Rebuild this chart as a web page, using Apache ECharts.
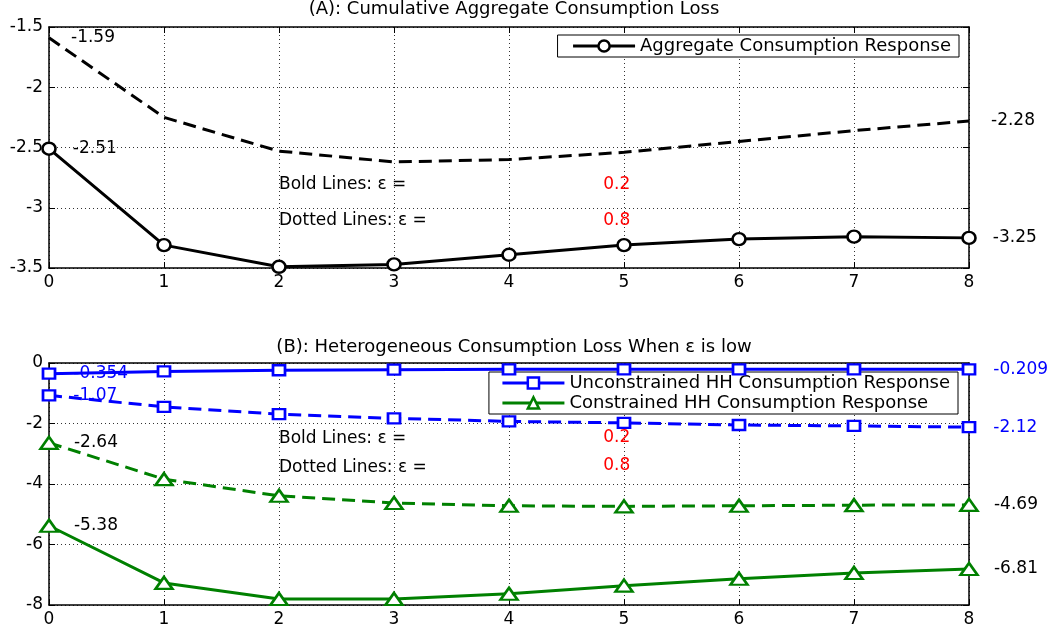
<!DOCTYPE html>
<html><head><meta charset="utf-8">
<script src="https://cdn.jsdelivr.net/npm/echarts@6/dist/echarts.min.js"></script>
<style>html,body{margin:0;padding:0;background:#fff}#c{width:1059px;height:629px}</style>
</head><body><div id="c"></div>
<script>
// ---- data ----
const periods = [0,1,2,3,4,5,6,7,8];
const aggBold   = [-2.51,-3.31,-3.49,-3.47,-3.39,-3.31,-3.26,-3.24,-3.25];
const aggDotted = [-1.59,-2.25,-2.53,-2.62,-2.60,-2.54,-2.45,-2.36,-2.28];
const uncBold   = [-0.354,-0.28,-0.24,-0.22,-0.21,-0.21,-0.21,-0.21,-0.209];
const uncDotted = [-1.07,-1.45,-1.69,-1.83,-1.93,-1.98,-2.05,-2.08,-2.12];
const conBold   = [-5.38,-7.27,-7.80,-7.80,-7.63,-7.36,-7.13,-6.94,-6.81];
const conDotted = [-2.64,-3.84,-4.39,-4.63,-4.72,-4.74,-4.72,-4.70,-4.69];
const titles = ['(A): Cumulative Aggregate Consumption Loss','(B): Heterogeneous Consumption Loss When \u03b5 is low'];
const legendA = ['Aggregate Consumption Response'];
const legendB = ['Unconstrained HH Consumption Response','Constrained HH Consumption Response'];
const noteText = ['Bold Lines: \u03b5 =','Dotted Lines: \u03b5 ='];
const epsValues = ['0.2','0.8'];

const FONT = 'DejaVu Sans, Liberation Sans, Arial, sans-serif';
const BLUE = '#0000ff', GREEN = '#008000', BLACK = '#000000', RED = '#ff0000';

function pts(arr, labelColor){
  const last = arr.length - 1;
  return arr.map((v,i)=>({value:[periods[i], v], label:{show: i===0 || i===last, color: labelColor}}));
}
function lineSeries(name, arr, o){
  return {
    type:'line', name, data: pts(arr, o.labelColor || BLACK),
    xAxisIndex:o.g*2, yAxisIndex:o.g*2,
    symbol:o.symbol || 'circle', symbolSize:o.symbolSize || 0, showSymbol:true,
    lineStyle:{color:o.color, width:3, type:o.dashed ? [13,7] : 'solid'},
    itemStyle:{color:'#fff', borderColor:o.color, borderWidth:2.5, opacity:1},
    label:{position:'right', distance:o.dist, fontFamily:FONT, fontSize:17,
      formatter:p=>String(p.value[1])},
    z: o.z || 3, animation:false, emphasis:{disabled:true}
  };
}
function noteSeries(g, coords, texts, color){
  return {type:'scatter', xAxisIndex:g*2, yAxisIndex:g*2, symbolSize:0, silent:true,
    itemStyle:{opacity:1},
    data: coords.map((c,i)=>({value:c, name:texts[i]})),
    label:{show:true, position:'right', distance:0, color, opacity:1, fontFamily:FONT, fontSize:17, formatter:p=>p.name},
    animation:false, z:5};
}
const gridLine = {show:true, lineStyle:{color:'#333', width:1, type:[1,3]}};
const axisLineStyle = {show:true, onZero:false, lineStyle:{color:'#000', width:1.5}};
const tickStyle = {show:true, inside:true, length:6, lineStyle:{color:'#000'}};
function xAxes(g){
  return [
    {type:'value', gridIndex:g, min:0, max:8, interval:1, axisLine:axisLineStyle, axisTick:tickStyle,
     axisLabel:{color:'#000', fontFamily:FONT, fontSize:17, margin:6}, splitLine:gridLine},
    {type:'value', gridIndex:g, position:'top', min:0, max:8, interval:1, axisLine:axisLineStyle, axisTick:tickStyle,
     axisLabel:{show:false}, splitLine:{show:false}}
  ];
}
function yAxes(g, min, max, interval){
  return [
    {type:'value', gridIndex:g, min, max, interval, axisLine:axisLineStyle, axisTick:tickStyle,
     axisLabel:{color:'#000', fontFamily:FONT, fontSize:17, margin:6}, splitLine:gridLine},
    {type:'value', gridIndex:g, position:'right', min, max, interval, axisLine:axisLineStyle, axisTick:tickStyle,
     axisLabel:{show:false}, splitLine:{show:false}}
  ];
}
const legendCommon = {orient:'vertical', backgroundColor:'#fff', borderColor:'#000', borderWidth:1,
  itemWidth:62, itemHeight:14, itemGap:2, selectedMode:false,
  lineStyle:{width:3}, itemStyle:{borderWidth:2.5},
  textStyle:{fontFamily:FONT, fontSize:18, color:'#000'}};

const chart = echarts.init(document.getElementById('c'), null, {renderer:'canvas'});
chart.setOption({
  backgroundColor:'#fff',
  animation:false,
  title:[
    {text:titles[0], left:509, top:-5, textAlign:'center', textStyle:{fontFamily:FONT, fontSize:18, fontWeight:'normal', color:'#000'}},
    {text:titles[1], left:509, top:333, textAlign:'center', textStyle:{fontFamily:FONT, fontSize:18, fontWeight:'normal', color:'#000'}}
  ],
  legend:[
    Object.assign({data:legendA, right:100, top:35, padding:[2,8,2,14]}, legendCommon),
    Object.assign({data:legendB, right:101, top:372, padding:[2,8,2,12]}, legendCommon)
  ],
  grid:[
    {left:49, top:27, width:920, height:241},
    {left:49, top:363, width:920, height:242}
  ],
  xAxis:[...xAxes(0), ...xAxes(1)],
  yAxis:[...yAxes(0,-3.5,-1.5,0.5), ...yAxes(1,-8,0,2)],
  series:[
    lineSeries(legendA[0], aggBold, {g:0, color:BLACK, symbol:'circle', symbolSize:[13,12], dist:16, z:4}),
    lineSeries('Aggregate (dotted)', aggDotted, {g:0, color:BLACK, dashed:true, symbolSize:0, dist:22}),
    lineSeries(legendB[0], uncBold, {g:1, color:BLUE, symbol:'rect', symbolSize:[12,10], dist:17, labelColor:BLUE, z:4}),
    lineSeries('Unconstrained (dotted)', uncDotted, {g:1, color:BLUE, dashed:true, symbol:'rect', symbolSize:[12,10], dist:17, labelColor:BLUE}),
    lineSeries(legendB[1], conBold, {g:1, color:GREEN, symbol:'triangle', symbolSize:[17,12], dist:15, z:4}),
    lineSeries('Constrained (dotted)', conDotted, {g:1, color:GREEN, dashed:true, symbol:'triangle', symbolSize:[17,12], dist:15}),
    noteSeries(0, [[2,-2.81],[2,-3.11]], noteText, '#000'),
    noteSeries(0, [[4.82,-2.81],[4.82,-3.11]], epsValues, RED),
    noteSeries(1, [[2,-2.51],[2,-3.45]], noteText, '#000'),
    noteSeries(1, [[4.82,-2.45],[4.82,-3.40]], epsValues, RED)
  ]
});
</script></body></html>
